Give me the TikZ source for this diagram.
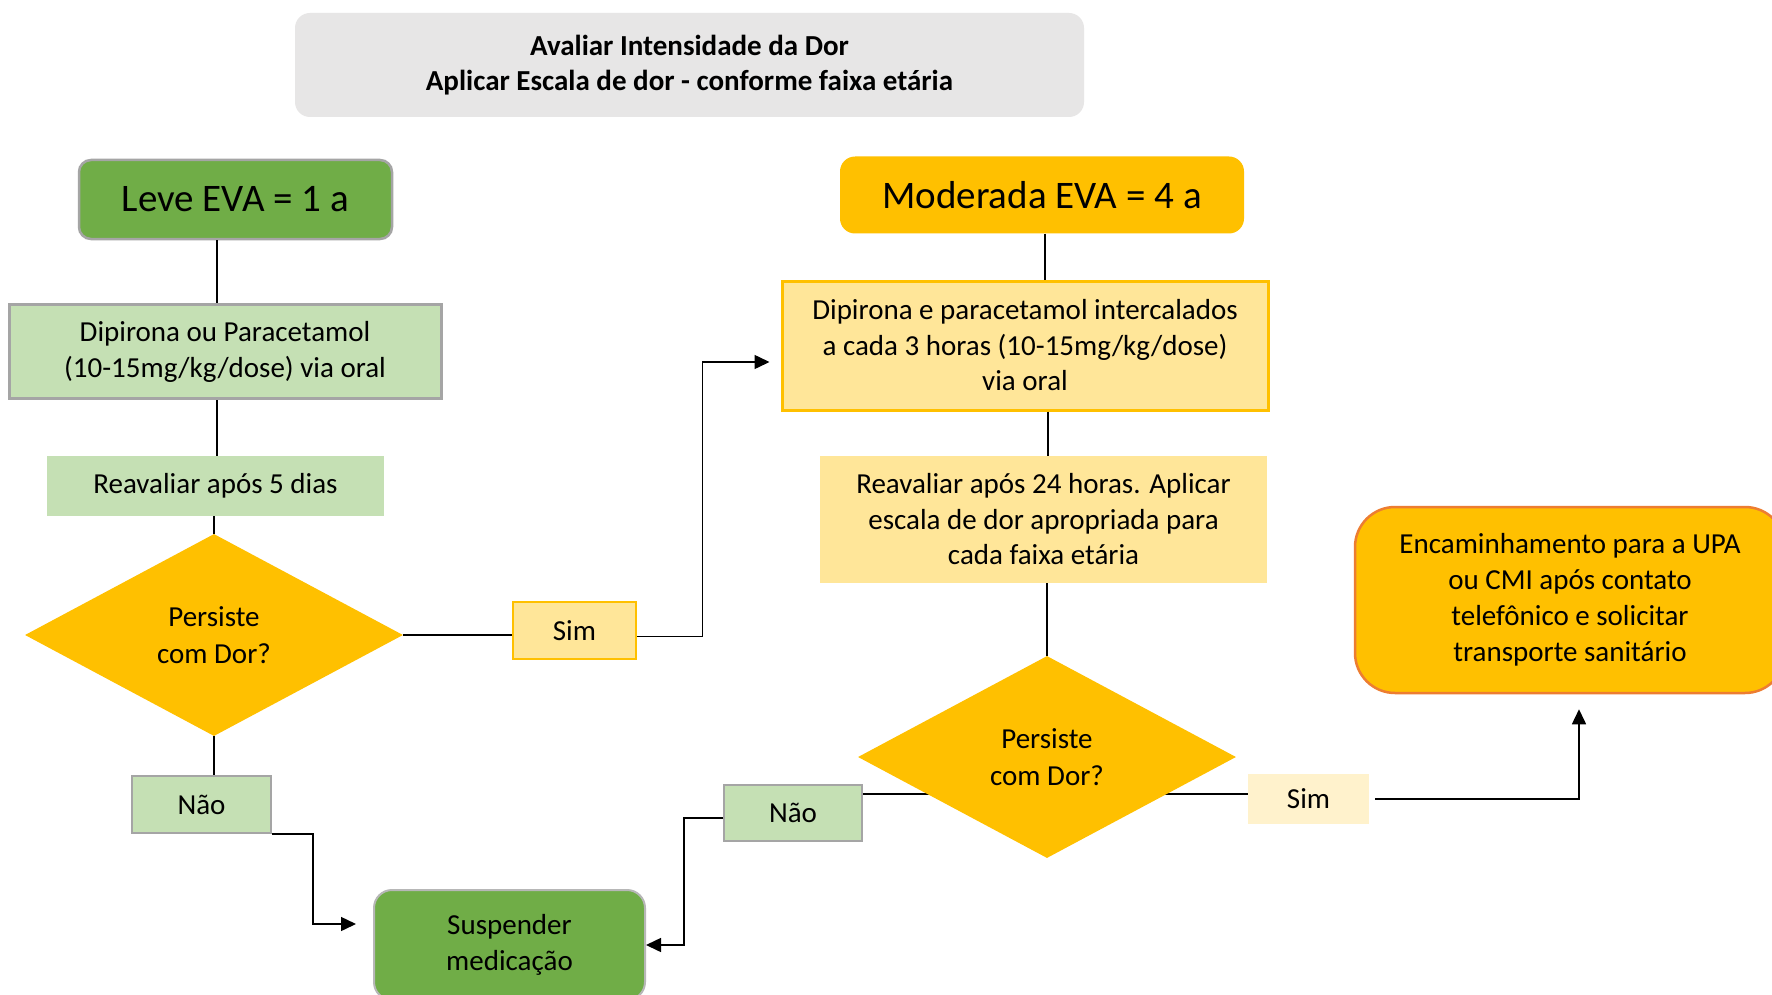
\documentclass[tikz,border=0pt]{standalone}
\usepackage{fontspec}
\setmainfont{Carlito}
\usetikzlibrary{shapes.geometric,arrows.meta}
\pgfdeclarelayer{background}
\pgfsetlayers{background,main}
\definecolor{gdark}{HTML}{70AD47}
\definecolor{glight}{HTML}{C5E0B4}
\definecolor{gold}{HTML}{FFC000}
\definecolor{goldlight}{HTML}{FFE699}
\definecolor{goldpale}{HTML}{FFF2CC}
\definecolor{titlegray}{HTML}{E7E6E6}
\definecolor{bordergray}{HTML}{A5A5A5}
\definecolor{orangeb}{HTML}{ED7D31}
\begin{document}
\begin{tikzpicture}[x=1pt,y=-1pt,
  box/.style={rectangle, inner sep=0pt, align=center, text=black,
    font=\fontsize{29}{36}\selectfont},
  big/.style={font=\fontsize{39}{46}\selectfont},
  decision/.style={diamond, inner sep=0pt, minimum width=378pt, minimum height=202pt,
    fill=gold, align=center, text=black, font=\fontsize{29}{37}\selectfont},
  conn/.style={draw=black, line width=1.5pt},
  arr/.style={conn, -{Triangle[length=15pt,width=14pt]}}]
\clip (0,0) rectangle (1772,995);
\begin{pgfonlayer}{background}
\fill[white] (0,0) rectangle (1772,995);
\end{pgfonlayer}

% Title
\node[box, fill=titlegray, rounded corners=15pt, minimum width=789pt, minimum height=104pt,
  font=\fontsize{29}{35}\selectfont\bfseries] (title) at (689.5,65)
  {Avaliar Intensidade da Dor\\Aplicar Escala de dor - conforme faixa etária};

% Left column
\node[box, big, fill=gdark, draw=bordergray, line width=2.5pt, rounded corners=12pt,
  minimum width=313pt, minimum height=79pt] (leve) at (235.5,199.5) {Leve EVA = 1 a};
\node[box, fill=glight, draw=bordergray, line width=3pt,
  minimum width=432pt, minimum height=94pt] (dip1) at (225,351.5)
  {Dipirona ou Paracetamol\\(10-15mg/kg/dose) via oral};
\node[box, fill=glight, minimum width=337pt, minimum height=60pt] (rev1) at (215.5,486)
  {Reavaliar após 5 dias};
\node[decision] (d1) at (214,635) {Persiste\\com Dor?};
\node[box, fill=goldlight, draw=gold, line width=2.5pt,
  minimum width=123pt, minimum height=57pt] (sim1) at (574.5,630.5) {Sim};
\node[box, fill=glight, draw=bordergray, line width=1.5pt,
  minimum width=139pt, minimum height=57pt] (nao1) at (201.5,804.5) {Não};
\node[box, fill=gdark, draw=bordergray!80, line width=2pt, rounded corners=18pt,
  minimum width=271pt, minimum height=110pt] (susp) at (509.5,945)
  {Suspender\\medicação};

% Right column
\node[box, big, fill=gold, rounded corners=15pt,
  minimum width=404pt, minimum height=77pt] (mod) at (1042,195) {Moderada EVA = 4 a};
\node[box, fill=goldlight, draw=gold, line width=3pt,
  minimum width=486pt, minimum height=129pt, font=\fontsize{29}{35.5}\selectfont] (dip2) at (1025,345.5)
  {Dipirona e paracetamol intercalados\\a cada 3 horas (10-15mg/kg/dose)\\via oral};
\node[box, fill=goldlight, minimum width=447pt, minimum height=127pt,
  font=\fontsize{29}{35.5}\selectfont] (rev24) at (1043.5,519.5)
  {Reavaliar após 24 horas. Aplicar\\escala de dor apropriada para\\cada faixa etária};
\node[decision] (d2) at (1047,757) {Persiste\\com Dor?};
\node[box, fill=glight, draw=bordergray, line width=1.5pt,
  minimum width=138pt, minimum height=56pt] (nao2) at (793,813) {Não};
\node[box, fill=goldpale, minimum width=121pt, minimum height=50pt] (sim2) at (1308.5,799) {Sim};
\node[box, fill=gold, draw=orangeb, line width=2.5pt, rounded corners=40pt,
  minimum width=430pt, minimum height=186pt] (enc) at (1570,600)
  {Encaminhamento para a UPA\\ou CMI após contato\\telefônico e solicitar\\transporte sanitário};

% helper coordinates
\coordinate (lx1) at (217,0);
\coordinate (lx2) at (1045,0);
\coordinate (lx3) at (1048,0);
\coordinate (d2m) at ([yshift=-37pt]d2.center);

% connectors
\draw[conn] (leve.south -| lx1) -- (dip1.north -| lx1);
\draw[conn] (dip1.south -| lx1) -- (rev1.north -| lx1);
\draw[conn] (rev1.south -| d1.north) -- (d1.north);
\draw[conn] (d1.south) -- (nao1.north -| d1.south);
\draw[conn] (d1.east) -- (sim1.west |- d1.east);
\draw[arr, shorten >=11pt] ([yshift=-6pt]sim1.east) -| ([xshift=-78pt,yshift=-16.5pt]dip2.west) -- ([yshift=-16.5pt]dip2.west);
\draw[arr, shorten >=17pt] (nao1.south east) -| ([xshift=-60pt,yshift=21pt]susp.west) -- ([yshift=21pt]susp.west);

\draw[conn] (mod.south -| lx2) -- (dip2.north -| lx2);
\draw[conn] (dip2.south -| lx3) -- (rev24.north -| lx3);
\draw[conn] (rev24.south -| d2.north) -- (d2.north);
\begin{pgfonlayer}{background}
\draw[conn] (d2m) -- (d2m -| nao2.east);
\draw[conn] (d2m) -- (d2m -| sim2.west);
\end{pgfonlayer}
\draw[arr] ([yshift=-5pt]nao2.west) -| ([xshift=38pt]susp.east) -- (susp.east);
\draw[arr, shorten >=15pt] ([xshift=6pt]sim2.east) -| ([xshift=9pt]enc.south);
\end{tikzpicture}
\end{document}
